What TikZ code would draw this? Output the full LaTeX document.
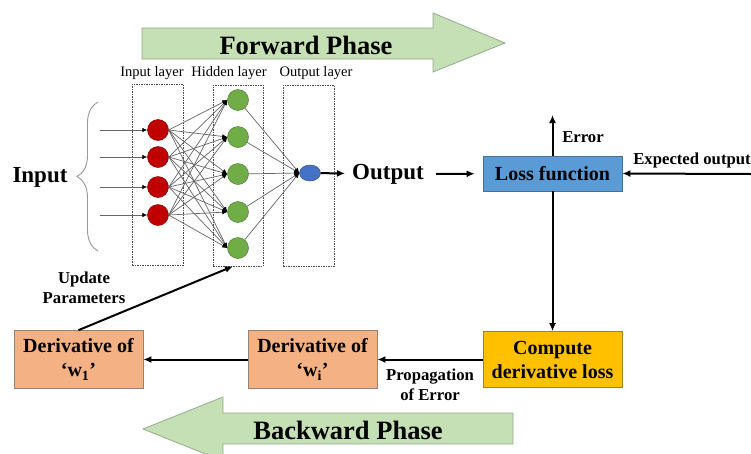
\documentclass[tikz,border=0pt]{standalone}
\usepackage{fontspec}
\setmainfont{Liberation Serif}
\usetikzlibrary{arrows.meta,decorations.pathreplacing,shapes.geometric}
\definecolor{fgreen}{RGB}{197,224,180}
\definecolor{fgreenb}{RGB}{150,170,140}
\definecolor{lossblue}{RGB}{91,155,213}
\definecolor{lossblueb}{RGB}{65,113,156}
\definecolor{compor}{RGB}{255,192,0}
\definecolor{comporb}{RGB}{160,130,40}
\definecolor{derivor}{RGB}{244,177,131}
\definecolor{derivorb}{RGB}{150,130,115}
\definecolor{nred}{RGB}{192,0,0}
\definecolor{ngreen}{RGB}{112,173,71}
\definecolor{nblue}{RGB}{68,114,196}
\begin{document}
\begin{tikzpicture}[x=1pt,y=-1pt,
  phasearrow/.style={fill=fgreen,draw=fgreenb,line width=0.8pt},
  phasetext/.style={font=\fontsize{26.5}{30}\selectfont\bfseries,inner sep=0},
  bigtext/.style={font=\fontsize{23}{26}\selectfont\bfseries,inner sep=0},
  boxtext/.style={font=\fontsize{20}{24}\selectfont\bfseries,align=center,inner sep=0,line width=0.7pt},
  lbl/.style={font=\fontsize{16.7}{20}\selectfont\bfseries,align=center,inner sep=0},
  layerlbl/.style={font=\fontsize{14.5}{16}\selectfont,inner sep=0},
  layerbox/.style={draw=black!70,dashed,dash pattern=on 1.5pt off 1pt,line width=0.5pt,inner sep=0},
  neuron/.style={circle,minimum size=21pt,inner sep=0,line width=0.5pt},
  conn/.style={draw=black!60,line width=0.7pt,-{Latex[length=5pt,width=4.5pt,black]}},
  mainarrow/.style={line width=2pt,-{Latex[length=8pt,width=7pt]}},
]
\clip (0,0) rectangle (751,453);
\fill[white] (0,0) rectangle (751,453);

% Phase arrows
\draw[phasearrow] (142,28)--(433,28)--(433,13)--(505,43)--(433,72)--(433,59)--(142,59)--cycle;
\node[phasetext] (fwd) at (306,45) {Forward Phase};
\draw[phasearrow] (513,413)--(223,413)--(223,397)--(143,429)--(223,461)--(223,444)--(513,444)--cycle;
\node[phasetext] (bwd) at (348,430) {Backward Phase};

% layer boxes and labels
\node[layerbox,minimum width=51pt,minimum height=181pt] (ibox) at (157.5,174.5) {};
\node[layerbox,minimum width=50pt,minimum height=181pt] (hbox) at (238,175.5) {};
\node[layerbox,minimum width=51pt,minimum height=181pt] (obox) at (308.5,175.5) {};
\node[layerlbl] (il) at (152,73) {Input layer};
\node[layerlbl] (hl) at (229,73) {Hidden layer};
\node[layerlbl] (ol) at (316,73) {Output layer};

% neurons
\node[neuron,fill=nred,draw=nred!70!black] (r1) at (158,130) {};
\node[neuron,fill=nred,draw=nred!70!black] (r2) at (158,157) {};
\node[neuron,fill=nred,draw=nred!70!black] (r3) at (158,187) {};
\node[neuron,fill=nred,draw=nred!70!black] (r4) at (158,215) {};
\node[neuron,fill=ngreen,draw=ngreen!75!black] (g1) at (238,100) {};
\node[neuron,fill=ngreen,draw=ngreen!75!black] (g2) at (238,137) {};
\node[neuron,fill=ngreen,draw=ngreen!75!black] (g3) at (238,174) {};
\node[neuron,fill=ngreen,draw=ngreen!75!black] (g4) at (238,212) {};
\node[neuron,fill=ngreen,draw=ngreen!75!black] (g5) at (238,248) {};
\node[ellipse,minimum width=21pt,minimum height=16pt,inner sep=0,fill=nblue,draw=nblue!75!black,line width=0.5pt] (b) at (310,173) {};

\foreach \i in {1,...,4}{
  \foreach \j in {1,...,5}{
    \draw[conn] (r\i.east) -- (g\j.west);
  }
}
\foreach \j in {1,...,5}{
  \draw[conn] (g\j) -- (b.west);
}

% inputs
\foreach \i/\y in {1/130,2/157,3/187,4/215}{
  \coordinate (in\i) at (100,\y);
  \draw[conn] (in\i) -- (r\i.west);
}
\coordinate (brb) at (98,251);
\coordinate (brt) at (98,102);
\draw[black!40,line width=0.9pt,decorate,decoration={brace,amplitude=21pt}] (brb) -- (brt);
\node[bigtext] (inp) at (40,177) {Input};

% output
\node[bigtext,inner xsep=7pt] (outtxt) at (388,174) {Output};
\draw[mainarrow] (b) -- (outtxt);

% boxes
\node[boxtext,fill=lossblue,draw=lossblueb,minimum width=139pt,minimum height=35pt] (loss) at (552.5,173.5) {Loss function};
\node[boxtext,fill=compor,draw=comporb,minimum width=139pt,minimum height=56pt] (comp) at (552.5,359.5) {Compute\\derivative loss};
\node[boxtext,fill=derivor,draw=derivorb,minimum width=129pt,minimum height=58pt] (d2) at (312.5,359.5) {Derivative of\\‘w\textsubscript{i}’};
\node[boxtext,fill=derivor,draw=derivorb,minimum width=129pt,minimum height=58pt] (d1) at (78.5,359.5) {Derivative of\\‘w\textsubscript{1}’};

\draw[mainarrow,shorten <=5pt,shorten >=8pt] (outtxt) -- (loss);
\coordinate (eo) at (751,174);
\draw[mainarrow] (eo) -- (loss.east);
\node[lbl] (eol) at (692,160) {Expected output};
\coordinate (err) at (552.5,115);
\draw[mainarrow] (loss) -- (err);
\node[lbl] (errl) at (583,137) {Error};
\draw[mainarrow] (loss) -- (comp);
\draw[mainarrow] (comp) -- (d2);
\node[lbl] (prop) at (430,385) {Propagation\\of Error};
\draw[mainarrow] (d2) -- (d1);
\draw[mainarrow] (d1.north) -- ([xshift=-5pt]hbox.south);
\node[lbl] (upd) at (84,288) {Update\\Parameters};
\end{tikzpicture}
\end{document}
